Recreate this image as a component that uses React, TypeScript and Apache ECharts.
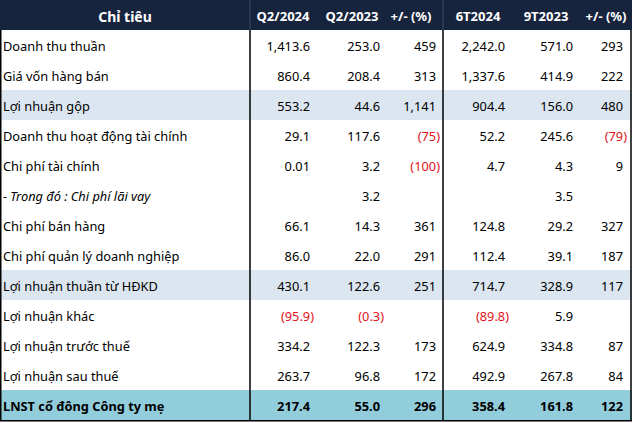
import React, { useEffect, useRef } from "react";
import * as echarts from "echarts";

const headers = ["Chỉ tiêu", "Q2/2024", "Q2/2023", "+/- (%)", "6T2024", "9T2023", "+/- (%)"];
const categories = [
  "Doanh thu thuần",
  "Giá vốn hàng bán",
  "Lợi nhuận gộp",
  "Doanh thu hoạt động tài chính",
  "Chi phí tài chính",
  "- Trong đó : Chi phí lãi vay",
  "Chi phí bán hàng",
  "Chi phí quản lý doanh nghiệp",
  "Lợi nhuận thuần từ HĐKD",
  "Lợi nhuận khác",
  "Lợi nhuận trước thuế",
  "Lợi nhuận sau thuế",
  "LNST cổ đông Công ty mẹ",
];
const q2_2024 = [1413.6, 860.4, 553.2, 29.1, 0.01, null, 66.1, 86.0, 430.1, -95.9, 334.2, 263.7, 217.4];
const q2_2023 = [253.0, 208.4, 44.6, 117.6, 3.2, 3.2, 14.3, 22.0, 122.6, -0.3, 122.3, 96.8, 55.0];
const chgQ = [459, 313, 1141, -75, -100, null, 361, 291, 251, null, 173, 172, 296];
const h1_2024 = [2242.0, 1337.6, 904.4, 52.2, 4.7, null, 124.8, 112.4, 714.7, -89.8, 624.9, 492.9, 358.4];
const m9_2023 = [571.0, 414.9, 156.0, 245.6, 4.3, 3.5, 29.2, 39.1, 328.9, 5.9, 334.8, 267.8, 161.8];
const chgH = [293, 222, 480, -79, 9, null, 327, 187, 117, null, 87, 84, 122];

const lightRows = [2, 8];
const totalRows = [12];
const italicRows = [5];

export default function App() {
  const ref = useRef<HTMLDivElement>(null);
  useEffect(() => {
    document.body.style.margin = "0";
    if (!ref.current) return;
    const chart = echarts.init(ref.current, null, { renderer: "svg" });
    const W = 632;
    const headH = 30;
    const rowH = 30;
    const font = "Noto Sans";
    const fs = 12.8;
    const columns: { data: (number | null)[]; dec: number; right: number }[] = [
      { data: q2_2024, dec: 1, right: 310 },
      { data: q2_2023, dec: 1, right: 380 },
      { data: chgQ, dec: 0, right: 436 },
      { data: h1_2024, dec: 1, right: 505 },
      { data: m9_2023, dec: 1, right: 573 },
      { data: chgH, dec: 0, right: 623 },
    ];
    const headCenters = [125, 283, 352, 411, 478, 546, 606];
    const fmt = (v: number, dec: number) => {
      const d = v !== 0 && Math.abs(v) < 0.1 ? 2 : dec;
      const s = Math.abs(v).toLocaleString("en-US", { minimumFractionDigits: d, maximumFractionDigits: d });
      return v < 0 ? "(" + s + ")" : s;
    };
    const els: any[] = [];
    els.push({ type: "rect", shape: { x: 0, y: 0, width: W, height: headH }, style: { fill: "#17243e" } });
    categories.forEach((_, i) => {
      const y = headH + i * rowH;
      let fill = "#ffffff";
      if (lightRows.includes(i)) fill = "#dce6f1";
      if (totalRows.includes(i)) fill = "#92cddc";
      els.push({ type: "rect", shape: { x: 0, y, width: W, height: rowH }, style: { fill } });
    });
    headers.forEach((h, j) => {
      els.push({
        type: "text",
        x: headCenters[j],
        y: headH / 2 + 1,
        style: { text: h, fill: "#ffffff", font: `bold ${j === 0 ? 14 : 13}px "${font}"`, align: "center", verticalAlign: "middle" },
      });
    });
    categories.forEach((c, i) => {
      const cy = headH + i * rowH + rowH / 2 + 1;
      const bold = totalRows.includes(i);
      const italic = italicRows.includes(i);
      els.push({
        type: "text",
        x: 3,
        y: cy,
        style: {
          text: c,
          fill: "#000000",
          font: `${italic ? "italic " : ""}${bold ? "bold " : ""}${fs}px "${font}"`,
          align: "left",
          verticalAlign: "middle",
        },
      });
      columns.forEach((col) => {
        const v = col.data[i];
        if (v === null || v === undefined) return;
        const neg = v < 0;
        els.push({
          type: "text",
          x: neg ? col.right + 4 : col.right,
          y: cy,
          style: {
            text: fmt(v, col.dec),
            fill: neg ? "#e3131b" : "#000000",
            font: `${bold ? "bold " : ""}${fs}px "${font}"`,
            align: "right",
            verticalAlign: "middle",
          },
        });
      });
    });
    const bottom = headH + categories.length * rowH;
    [250, 443].forEach((x) => {
      els.push({ type: "line", shape: { x1: x, y1: headH, x2: x, y2: bottom }, style: { stroke: "#000000", lineWidth: 1.5 } });
      els.push({ type: "line", shape: { x1: x, y1: 0, x2: x, y2: headH }, style: { stroke: "#3a4a68", lineWidth: 1 } });
    });
    els.push({ type: "line", shape: { x1: 0.75, y1: headH, x2: 0.75, y2: bottom }, style: { stroke: "#000000", lineWidth: 1.5 } });
    els.push({ type: "line", shape: { x1: 631, y1: headH, x2: 631, y2: bottom }, style: { stroke: "#000000", lineWidth: 1.5 } });
    els.push({ type: "line", shape: { x1: 0, y1: bottom + 0.75, x2: W, y2: bottom + 0.75 }, style: { stroke: "#000000", lineWidth: 1.5 } });
    chart.setOption({ animation: false, graphic: { elements: els } });
    return () => chart.dispose();
  }, []);
  return <div ref={ref} style={{ width: 632, height: 423, background: "#ffffff" }} />;
}
